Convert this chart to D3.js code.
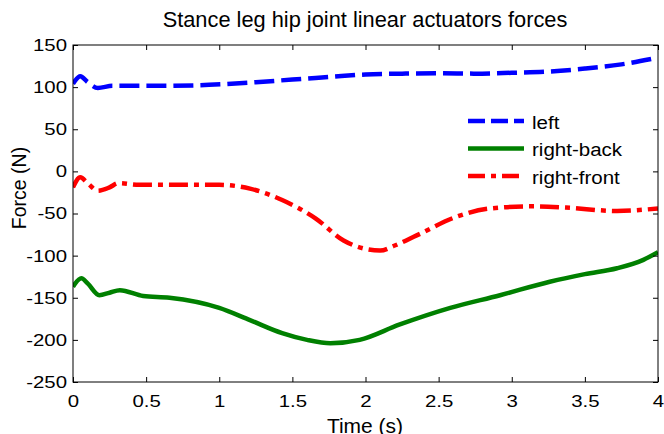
<!DOCTYPE html>
<html>
<head>
<meta charset="utf-8">
<script src="https://cdn.jsdelivr.net/npm/d3@7"></script>
<style>
  html, body { margin: 0; padding: 0; background: #fff; }
  svg { display: block; font-family: Arial, "Liberation Sans", Helvetica, sans-serif; }
</style>
</head>
<body>
<svg id="chart" width="664" height="434"></svg>
<script>
// Actuator force samples (time in s, force in N)
const leftT  = [0, 0.05, 0.1, 0.17, 0.27, 0.4, 0.6, 0.93, 1.25, 1.5, 1.75, 2.0, 2.25, 2.5, 2.75, 3.0, 3.25, 3.5, 3.75, 4.0];
const leftF  = [104, 113, 106, 99, 101.5, 101.5, 101.5, 102.7, 105.8, 109, 112, 115, 116, 116.5, 116, 117, 118.5, 122, 127, 135];

const backT  = [0, 0.057, 0.1, 0.18, 0.25, 0.32, 0.48, 0.66, 1.0, 1.21, 1.43, 1.6, 1.76, 1.96, 2.23, 2.58, 2.92, 3.26, 3.5, 3.72, 3.9, 4.0];
const backF  = [-137, -127, -133, -147, -144, -141, -148, -150, -162, -176.5, -192, -200, -204, -200, -182, -162, -147, -131, -122, -115, -105, -96];

const frontT = [0, 0.05, 0.1, 0.17, 0.25, 0.31, 0.45, 0.7, 1.0, 1.21, 1.43, 1.66, 1.85, 2.0, 2.1, 2.2, 2.35, 2.62, 2.85, 3.14, 3.37, 3.72, 4.0];
const frontF = [-19, -7, -14, -23, -19, -14, -16, -16, -16, -20.5, -34, -56, -82, -92, -94, -88, -76, -54, -44, -41.5, -43, -47, -44];

const xTicks = [0, 0.5, 1, 1.5, 2, 2.5, 3, 3.5, 4];
const yTicks = [-250, -200, -150, -100, -50, 0, 50, 100, 150];

const seriesNames = ["left", "right-back", "right-front"];

const svg = d3.select("#chart");
const m = { left: 73, right: 658, top: 45, bottom: 382 };

const x = d3.scaleLinear().domain([0, 4]).range([m.left, m.right]);
const y = d3.scaleLinear().domain([-250, 150]).range([m.bottom, m.top]);

const series = [
  { name: seriesNames[0], t: leftT,  f: leftF,  color: "#0000ff", dash: "20,7" },
  { name: seriesNames[1], t: backT,  f: backF,  color: "#008000", dash: null },
  { name: seriesNames[2], t: frontT, f: frontF, color: "#ff0000", dash: "19,6,5,6" }
];

const clipId = "plotClip";
svg.append("clipPath").attr("id", clipId)
  .append("rect")
  .attr("x", m.left).attr("y", m.top)
  .attr("width", m.right - m.left).attr("height", m.bottom - m.top);

const line = d3.line()
  .x(d => x(d[0]))
  .y(d => y(d[1]))
  .curve(d3.curveMonotoneX);

const plot = svg.append("g").attr("clip-path", `url(#${clipId})`);
series.forEach(s => {
  const pts = s.t.map((t, i) => [t, s.f[i]]);
  plot.append("path")
    .datum(pts)
    .attr("d", line)
    .attr("fill", "none")
    .attr("stroke", s.color)
    .attr("stroke-width", 4.5)
    .attr("stroke-dasharray", s.dash)
    .attr("stroke-linejoin", "round");
});

// Horizontally widened text, keeping the anchor point in place
function widen(sel, sx) {
  sel.each(function () {
    const t = d3.select(this);
    const x0 = +t.attr("x") || 0;
    t.attr("x", x0 / sx).attr("transform", `scale(${sx},1)`);
  });
}

// Box with inward ticks on all four sides
const tickLen = 5;
const labelSize = 17;
const axisStyle = g => {
  g.select(".domain").remove();
  g.selectAll(".tick line").attr("stroke", "#000");
  g.selectAll(".tick text").attr("fill", "#000").attr("font-size", labelSize)
    .attr("font-family", "Arial, 'Liberation Sans', sans-serif");
};
const fmt = d => String(d);

svg.append("g")
  .attr("transform", `translate(0,${m.bottom})`)
  .call(d3.axisBottom(x).tickValues(xTicks).tickFormat(fmt).tickSizeInner(-tickLen).tickPadding(12.5))
  .call(axisStyle)
  .call(g => widen(g.selectAll(".tick text"), 1.2));

svg.append("g")
  .attr("transform", `translate(0,${m.top})`)
  .call(d3.axisTop(x).tickValues(xTicks).tickFormat("").tickSizeInner(-tickLen))
  .call(axisStyle);

svg.append("g")
  .attr("transform", `translate(${m.left},0)`)
  .call(d3.axisLeft(y).tickValues(yTicks).tickFormat(fmt).tickSizeInner(-tickLen).tickPadding(6))
  .call(axisStyle)
  .call(g => widen(g.selectAll(".tick text"), 1.2));

svg.append("g")
  .attr("transform", `translate(${m.right},0)`)
  .call(d3.axisRight(y).tickValues(yTicks).tickFormat("").tickSizeInner(-tickLen))
  .call(axisStyle);

svg.append("rect")
  .attr("x", m.left).attr("y", m.top)
  .attr("width", m.right - m.left).attr("height", m.bottom - m.top)
  .attr("fill", "none").attr("stroke", "#000").attr("stroke-width", 1);

// Title and axis labels
svg.append("text")
  .attr("x", 365).attr("y", 27)
  .attr("text-anchor", "middle").attr("font-size", 21.8)
  .text("Stance leg hip joint linear actuators forces");

svg.append("text")
  .attr("x", 365).attr("y", 432.5)
  .attr("text-anchor", "middle").attr("font-size", 21)
  .text("Time (s)");

svg.append("text")
  .attr("transform", `translate(26,188) rotate(-90)`)
  .attr("text-anchor", "middle").attr("font-size", 19.5)
  .text("Force (N)");

// Legend (no frame)
const legend = svg.append("g");
series.forEach((s, i) => {
  const ly = 121 + i * 27.5;
  legend.append("line")
    .attr("x1", 468).attr("x2", 524)
    .attr("y1", ly).attr("y2", ly)
    .attr("stroke", s.color).attr("stroke-width", 4.5)
    .attr("stroke-dasharray", i === 0 ? "17,6" : (i === 2 ? "17,6,5,6" : null));
  legend.append("text")
    .attr("x", 532).attr("y", ly + 8)
    .attr("font-size", 19)
    .text(s.name)
    .call(t => widen(t, 1.08));
});
</script>
</body>
</html>
